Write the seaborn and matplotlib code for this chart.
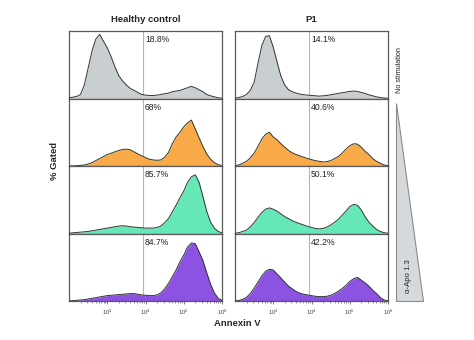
import numpy as np
import matplotlib
matplotlib.use("Agg")
import matplotlib.pyplot as plt
import matplotlib.ticker as mticker
from matplotlib.patches import Polygon
import seaborn as sns

# ---------------- data ----------------
LOG_ANNEXIN = [2.0, 2.1, 2.2, 2.3, 2.4, 2.5, 2.6, 2.7, 2.8, 2.9,
               3.0, 3.1, 3.2, 3.3, 3.4, 3.5, 3.6, 3.7, 3.8, 3.9,
               4.0, 4.1, 4.2, 4.3, 4.4, 4.5, 4.6, 4.7, 4.8, 4.9,
               5.0, 5.1, 5.2, 5.3, 5.4, 5.5, 5.6, 5.7, 5.8, 5.9, 6.0]

columns = ["Healthy control", "P1"]
conditions = ["No stimulation", "α-Apo 1.3 low", "α-Apo 1.3 mid", "α-Apo 1.3 high"]

hc_none = [0.01, 0.02, 0.03, 0.06, 0.2, 0.45, 0.7, 0.88, 0.95, 0.85,
           0.75, 0.62, 0.47, 0.34, 0.26, 0.2, 0.15, 0.12, 0.09, 0.06,
           0.05, 0.045, 0.045, 0.05, 0.06, 0.07, 0.08, 0.1, 0.11, 0.12,
           0.14, 0.16, 0.18, 0.16, 0.13, 0.1, 0.06, 0.04, 0.025, 0.01, 0.005]
hc_low = [0.0, 0.0, 0.005, 0.01, 0.015, 0.03, 0.05, 0.08, 0.11, 0.14,
          0.17, 0.19, 0.21, 0.23, 0.245, 0.25, 0.24, 0.21, 0.18, 0.15,
          0.125, 0.1, 0.09, 0.085, 0.09, 0.13, 0.2, 0.33, 0.43, 0.5,
          0.58, 0.64, 0.68, 0.55, 0.42, 0.29, 0.18, 0.1, 0.05, 0.02, 0.005]
hc_mid = [0.005, 0.01, 0.015, 0.02, 0.025, 0.03, 0.04, 0.05, 0.06, 0.07,
          0.08, 0.09, 0.1, 0.11, 0.115, 0.11, 0.1, 0.095, 0.09, 0.085,
          0.08, 0.08, 0.08, 0.09, 0.11, 0.16, 0.22, 0.32, 0.42, 0.53,
          0.63, 0.76, 0.84, 0.87, 0.76, 0.55, 0.33, 0.17, 0.08, 0.03, 0.01]
hc_high = [0.0, 0.005, 0.01, 0.015, 0.02, 0.03, 0.04, 0.05, 0.06, 0.07,
           0.08, 0.085, 0.09, 0.095, 0.1, 0.105, 0.11, 0.11, 0.1, 0.09,
           0.085, 0.08, 0.08, 0.09, 0.12, 0.18, 0.26, 0.36, 0.46, 0.58,
           0.68, 0.8, 0.86, 0.85, 0.73, 0.6, 0.42, 0.25, 0.12, 0.04, 0.01]

p1_none = [0.005, 0.015, 0.03, 0.06, 0.12, 0.24, 0.52, 0.78, 0.92, 0.93,
           0.76, 0.54, 0.33, 0.2, 0.13, 0.1, 0.08, 0.065, 0.055, 0.05,
           0.045, 0.04, 0.035, 0.04, 0.045, 0.055, 0.065, 0.075, 0.085, 0.095,
           0.105, 0.11, 0.105, 0.09, 0.075, 0.055, 0.04, 0.025, 0.015, 0.008, 0.003]
p1_low = [0.005, 0.015, 0.04, 0.07, 0.12, 0.19, 0.29, 0.4, 0.47, 0.5,
          0.43, 0.39, 0.33, 0.28, 0.23, 0.195, 0.17, 0.15, 0.13, 0.11,
          0.095, 0.08, 0.07, 0.06, 0.065, 0.08, 0.11, 0.14, 0.19, 0.25,
          0.3, 0.33, 0.325, 0.28, 0.22, 0.17, 0.11, 0.07, 0.04, 0.015, 0.005]
p1_mid = [0.003, 0.012, 0.03, 0.05, 0.1, 0.16, 0.24, 0.31, 0.36, 0.38,
          0.36, 0.33, 0.29, 0.25, 0.22, 0.19, 0.165, 0.145, 0.125, 0.105,
          0.09, 0.075, 0.068, 0.075, 0.095, 0.125, 0.165, 0.21, 0.27, 0.33,
          0.4, 0.43, 0.42, 0.35, 0.25, 0.17, 0.11, 0.06, 0.03, 0.012, 0.004]
p1_high = [0.0, 0.008, 0.025, 0.055, 0.11, 0.19, 0.28, 0.37, 0.44, 0.47,
           0.46, 0.4, 0.34, 0.28, 0.22, 0.18, 0.14, 0.115, 0.1, 0.09,
           0.08, 0.07, 0.065, 0.065, 0.07, 0.085, 0.11, 0.145, 0.185, 0.23,
           0.29, 0.33, 0.35, 0.31, 0.27, 0.22, 0.16, 0.11, 0.05, 0.015, 0.003]

series = [[hc_none, hc_low, hc_mid, hc_high],
          [p1_none, p1_low, p1_mid, p1_high]]
pct_labels = [["18.8%", "68%", "85.7%", "84.7%"],
              ["14.1%", "40.6%", "50.1%", "42.2%"]]
tick_vals = [1e3, 1e4, 1e5, 1e6]
tick_text = ["10$^3$", "10$^4$", "10$^5$", "10$^6$"]
gate_log = 3.93

# ---------------- style ----------------
sns.set_theme(style="white")
plt.rcParams["font.family"] = ["Liberation Sans", "DejaVu Sans"]
plt.rcParams["mathtext.fontset"] = "custom"
plt.rcParams["mathtext.rm"] = "Liberation Sans"

fill_colors = ["#c9ced1", "#f9aa48", "#66e8b6", "#8c52e2"]
edge_color = "#333333"
spine_color = "#5a5a5a"

W, H = 474, 340
fig = plt.figure(figsize=(W / 100, H / 100), dpi=100)

col_x = [(69, 222), (235, 388)]
top_px, bot_px = 31, 301
row_h = (bot_px - top_px) / 4

x = 10 ** np.array(LOG_ANNEXIN)

for c in range(2):
    x0, x1 = col_x[c]
    for r in range(4):
        y_top = top_px + r * row_h
        ax = fig.add_axes([x0 / W, 1 - (y_top + row_h) / H, (x1 - x0) / W, row_h / H])
        vals = series[c][r]
        ax.fill_between(x, 0, vals, color=fill_colors[r], linewidth=0, zorder=2)
        sns.lineplot(x=x, y=vals, ax=ax, color=edge_color, linewidth=0.7, zorder=3)
        ax.set_xscale("log")
        ax.set_xlim(1e2, 1e6)
        ax.set_ylim(0, 1.0)
        ax.axvline(10 ** gate_log, color="#b5b5b5", linewidth=0.8, zorder=1)
        ax.text(10 ** 3.99, 0.87, pct_labels[c][r], fontsize=6.2, color="#222222",
                ha="left", va="center", zorder=4)
        ax.set_yticks([])
        ax.set_ylabel("")
        ax.set_xlabel("")
        for s in ax.spines.values():
            s.set_color(spine_color)
            s.set_linewidth(0.9)
        if r == 3:
            ax.set_xticks(tick_vals)
            ax.set_xticklabels(tick_text)
            ax.xaxis.set_minor_locator(mticker.LogLocator(base=10, subs=np.arange(2, 10), numticks=20))
            ax.xaxis.set_minor_formatter(mticker.NullFormatter())
            ax.tick_params(axis="x", which="major", direction="out", length=2.5, width=0.5,
                           colors="#444444", labelsize=4.3, pad=2, bottom=True)
            ax.tick_params(axis="x", which="minor", direction="out", length=1.5, width=0.4,
                           colors="#444444", bottom=True)
        else:
            ax.set_xticks([])
            ax.xaxis.set_minor_locator(mticker.NullLocator())

# overlay in pixel coordinates for annotations
ov = fig.add_axes([0, 0, 1, 1], facecolor="none")
ov.set_xlim(0, W)
ov.set_ylim(H, 0)
ov.axis("off")

tri = Polygon([(396, 103), (396, 301), (423, 301)], closed=True,
              facecolor="#d6d9dc", edgecolor="#8a8a8a", linewidth=0.8)
ov.add_patch(tri)

ov.text(146, 20, columns[0], fontsize=6.8, fontweight="bold", ha="center", va="center")
ov.text(311, 20, columns[1], fontsize=6.8, fontweight="bold", ha="center", va="center")
ov.text(55, 161, "% Gated", fontsize=6.8, fontweight="bold", rotation=90,
        ha="center", va="center")
ov.text(237, 324, "Annexin V", fontsize=6.8, fontweight="bold", ha="center", va="center")
ov.text(400, 70, "No stimulation", fontsize=5.2, rotation=90, ha="center", va="center",
        color="#222222")
ov.text(409, 276, "α-Apo 1.3", fontsize=5.6, rotation=90, ha="center", va="center",
        color="#222222")

fig.savefig("out.png", dpi=100)
